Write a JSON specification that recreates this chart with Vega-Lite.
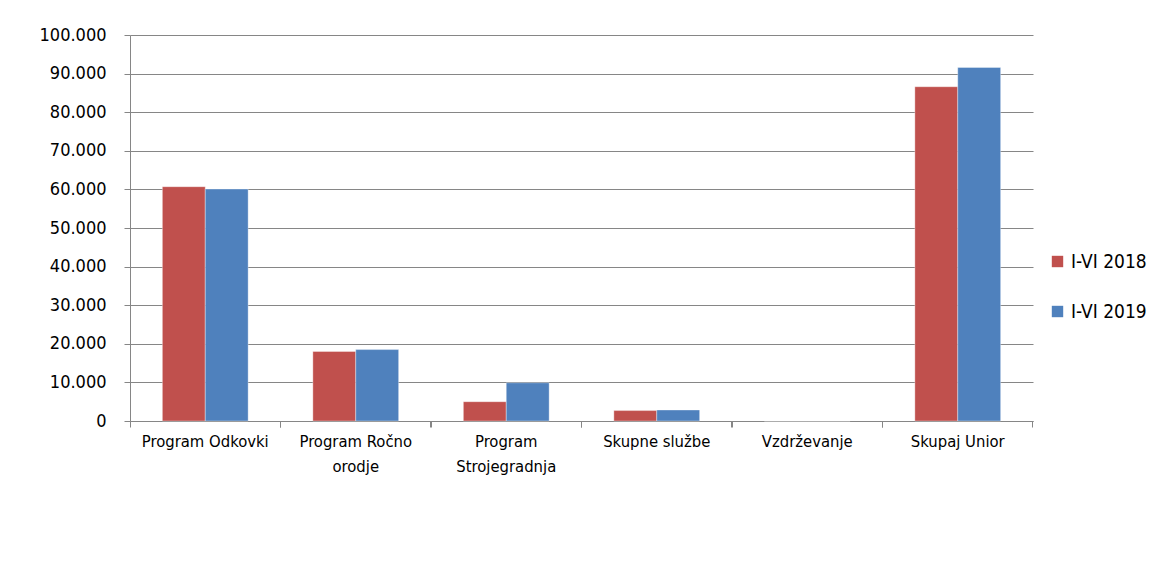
{
  "$schema": "https://vega.github.io/schema/vega-lite/v6.json",
  "autosize": "none",
  "width": 903,
  "height": 386,
  "padding": {"left": 130, "top": 35, "right": 130, "bottom": 146},
  "background": "white",
  "config": {
    "view": {"stroke": null},
    "font": "DejaVu Sans Condensed",
    "axis": {
      "labelFont": "DejaVu Sans Condensed",
      "labelFontSize": 16.5,
      "labelColor": "#000000",
      "domainColor": "#868686",
      "tickColor": "#868686",
      "gridColor": "#868686"
    },
    "legend": {
      "labelFont": "DejaVu Sans Condensed",
      "labelFontSize": 19,
      "labelColor": "#000000"
    }
  },
  "data": {
    "values": [
      {"kategorija": "Program Odkovki", "obdobje": "I-VI 2018", "vrednost": 60700},
      {"kategorija": "Program Odkovki", "obdobje": "I-VI 2019", "vrednost": 60100},
      {"kategorija": "Program Ročno orodje", "obdobje": "I-VI 2018", "vrednost": 18000},
      {"kategorija": "Program Ročno orodje", "obdobje": "I-VI 2019", "vrednost": 18500},
      {"kategorija": "Program Strojegradnja", "obdobje": "I-VI 2018", "vrednost": 5000},
      {"kategorija": "Program Strojegradnja", "obdobje": "I-VI 2019", "vrednost": 9900},
      {"kategorija": "Skupne službe", "obdobje": "I-VI 2018", "vrednost": 2700},
      {"kategorija": "Skupne službe", "obdobje": "I-VI 2019", "vrednost": 2850},
      {"kategorija": "Vzdrževanje", "obdobje": "I-VI 2018", "vrednost": 0},
      {"kategorija": "Vzdrževanje", "obdobje": "I-VI 2019", "vrednost": 0},
      {"kategorija": "Skupaj Unior", "obdobje": "I-VI 2018", "vrednost": 86600},
      {"kategorija": "Skupaj Unior", "obdobje": "I-VI 2019", "vrednost": 91600}
    ]
  },
  "encoding": {
    "x": {
      "field": "kategorija",
      "type": "nominal",
      "sort": null,
      "title": null,
      "scale": {"paddingInner": 0.43, "paddingOuter": 0.215}
    },
    "xOffset": {"field": "obdobje", "type": "nominal"},
    "y": {
      "field": "vrednost",
      "type": "quantitative",
      "title": null,
      "scale": {"domain": [0, 100000], "nice": false}
    },
    "color": {
      "field": "obdobje",
      "type": "nominal",
      "scale": {"domain": ["I-VI 2018", "I-VI 2019"], "range": ["#C0504D", "#4F81BD"]},
      "legend": {
        "orient": "none",
        "legendX": 918,
        "legendY": 217,
        "title": null,
        "symbolType": "square",
        "symbolSize": 130,
        "symbolStrokeWidth": 0,
        "labelOffset": 4,
        "rowPadding": 30,
        "padding": 0
      }
    }
  },
  "layer": [
    {
      "mark": {"type": "bar", "stroke": "#ffffff", "strokeWidth": 0.6, "strokeOpacity": 0.6},
      "encoding": {
        "x": {
          "field": "kategorija",
          "type": "nominal",
          "sort": null,
          "title": null,
          "axis": {
            "orient": "bottom",
            "ticks": false,
            "domain": true,
            "labelAngle": 0,
            "labelPadding": 12,
            "labelLineHeight": 25,
            "labelLimit": 200,
            "labelExpr": "datum.label == 'Program Ročno orodje' ? ['Program Ročno', 'orodje'] : datum.label == 'Program Strojegradnja' ? ['Program', 'Strojegradnja'] : datum.label"
          }
        },
        "y": {
          "field": "vrednost",
          "type": "quantitative",
          "title": null,
          "axis": {
            "orient": "left",
            "values": [0, 10000, 20000, 30000, 40000, 50000, 60000, 70000, 80000, 90000, 100000],
            "grid": true,
            "tickSize": 6,
            "labelPadding": 18,
            "labelFontSize": 18,
            "labelOverlap": false,
            "labelExpr": "replace(format(datum.value, ','), ',', '.')"
          }
        }
      }
    },
    {
      "mark": {"type": "bar", "opacity": 0},
      "encoding": {
        "x": {
          "field": "kategorija",
          "type": "nominal",
          "sort": null,
          "title": null,
          "axis": {"orient": "bottom", "labels": false, "domain": false, "ticks": true, "tickSize": 6, "bandPosition": -0.375, "grid": false}
        },
        "y": {"field": "vrednost", "type": "quantitative", "axis": null}
      }
    },
    {
      "mark": {"type": "bar", "opacity": 0},
      "encoding": {
        "x": {
          "field": "kategorija",
          "type": "nominal",
          "sort": null,
          "title": null,
          "axis": {"orient": "bottom", "labels": false, "domain": false, "ticks": true, "tickSize": 6, "bandPosition": 1.375, "grid": false}
        },
        "y": {"field": "vrednost", "type": "quantitative", "axis": null}
      }
    }
  ],
  "resolve": {"axis": {"x": "independent", "y": "independent"}}
}
